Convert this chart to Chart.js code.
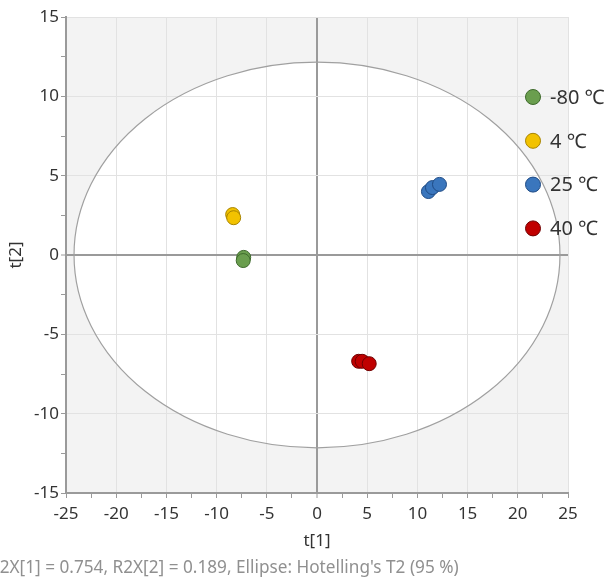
<!DOCTYPE html>
<html>
<head>
<meta charset="utf-8">
<script src="https://cdn.jsdelivr.net/npm/chart.js@4/dist/chart.umd.min.js"></script>
<style>
  html, body { margin: 0; padding: 0; background: #ffffff; }
  #wrap { width: 606px; height: 580px; position: relative; }
</style>
</head>
<body>
<div id="wrap"><canvas id="c" width="606" height="580"></canvas></div>
<script>
// Score values per group: t[1] and t[2]
const groupLabels = ['-80 ℃', '4 ℃', '25 ℃', '40 ℃'];
const t1Minus80 = [-7.3, -7.35];
const t2Minus80 = [-0.15, -0.35];
const t1Plus4 = [-8.4, -8.3];
const t2Plus4 = [2.55, 2.35];
const t1Plus25 = [11.1, 11.5, 12.2];
const t2Plus25 = [4.0, 4.25, 4.45];
const t1Plus40 = [4.15, 4.5, 5.2];
const t2Plus40 = [-6.7, -6.7, -6.85];

// Hotelling's T2 (95 %) ellipse semi-axes
const ellipseA = 24.2;
const ellipseB = 12.15;

const footerText = "R2X[1] = 0.754, R2X[2] = 0.189, Ellipse: Hotelling's T2 (95 %)";

const fills = ['#6a9e4e', '#f2c200', '#3a76bd', '#c00000'];
const edges = ['#3e6a2c', '#a88400', '#1f4b85', '#700000'];

function pairs(xs, ys) { return xs.map((x, i) => ({ x: x, y: ys[i] })); }
const groups = [
  pairs(t1Minus80, t2Minus80),
  pairs(t1Plus4, t2Plus4),
  pairs(t1Plus25, t2Plus25),
  pairs(t1Plus40, t2Plus40)
];

const FONT = '"Noto Sans", "DejaVu Sans", sans-serif';

function ellipseGeom(x, y) {
  const cx = x.getPixelForValue(0), cy = y.getPixelForValue(0);
  return {
    cx: cx, cy: cy,
    rx: Math.abs(x.getPixelForValue(ellipseA) - cx),
    ry: Math.abs(y.getPixelForValue(ellipseB) - cy)
  };
}

const plotDecor = {
  id: 'plotDecor',
  beforeDraw(chart) {
    const { ctx, chartArea: a, scales: { x, y } } = chart;
    const e = ellipseGeom(x, y);
    ctx.save();
    ctx.fillStyle = '#f3f3f3';
    ctx.fillRect(a.left, a.top, a.right - a.left, a.bottom - a.top);
    ctx.beginPath();
    ctx.ellipse(e.cx, e.cy, e.rx, e.ry, 0, 0, Math.PI * 2);
    ctx.fillStyle = '#ffffff';
    ctx.fill();
    ctx.restore();
  },
  beforeDatasetsDraw(chart) {
    const { ctx, scales: { x, y } } = chart;
    const e = ellipseGeom(x, y);
    ctx.save();
    ctx.beginPath();
    ctx.ellipse(e.cx, e.cy, e.rx, e.ry, 0, 0, Math.PI * 2);
    ctx.strokeStyle = '#a0a0a0';
    ctx.lineWidth = 1.2;
    ctx.stroke();
    ctx.restore();
  },
  afterDraw(chart) {
    const { ctx } = chart;
    ctx.save();
    // legend
    const lx = 533, ly0 = 97, step = 43.8;
    chart.data.datasets.forEach((ds, i) => {
      const yy = ly0 + i * step;
      ctx.beginPath();
      ctx.arc(lx, yy, 7.5, 0, Math.PI * 2);
      ctx.fillStyle = ds.backgroundColor;
      ctx.fill();
      ctx.lineWidth = 1;
      ctx.strokeStyle = ds.borderColor;
      ctx.stroke();
      ctx.fillStyle = '#333333';
      ctx.font = '20px ' + FONT;
      ctx.textAlign = 'left';
      ctx.textBaseline = 'middle';
      ctx.fillText(ds.label, 550, yy + 1);
    });
    // footer
    ctx.fillStyle = '#909090';
    ctx.font = '17.2px ' + FONT;
    ctx.textAlign = 'left';
    ctx.textBaseline = 'middle';
    ctx.fillText(footerText, -11, 568);
    ctx.restore();
  }
};

function gridColor(c) {
  const v = c.tick && c.tick.value;
  if (v === 0) return '#9a9a9a';
  return (Math.abs(v % 5) < 1e-9) ? '#e2e2e2' : 'rgba(0,0,0,0)';
}
function gridWidth(c) {
  return (c.tick && c.tick.value === 0) ? 2 : 1;
}
function majorOnly(v) {
  return (Math.abs(v % 5) < 1e-9) ? String(v) : '';
}

new Chart(document.getElementById('c'), {
  type: 'scatter',
  data: {
    datasets: groups.map((g, i) => ({
      label: groupLabels[i],
      data: g,
      backgroundColor: fills[i],
      borderColor: edges[i],
      borderWidth: 1,
      pointRadius: 7,
      pointHoverRadius: 7
    }))
  },
  options: {
    responsive: false,
    animation: false,
    devicePixelRatio: 1,
    layout: { padding: { left: 0, right: 38, top: 17, bottom: 29 } },
    plugins: { legend: { display: false }, tooltip: { enabled: false } },
    scales: {
      x: {
        type: 'linear',
        min: -25, max: 25,
        afterFit(s) { s.height = 58; },
        ticks: {
          stepSize: 2.5, autoSkip: false, maxRotation: 0,
          callback: majorOnly,
          color: '#333333', font: { family: FONT, size: 17 }, padding: 6
        },
        grid: { color: gridColor, lineWidth: gridWidth, drawTicks: true, tickLength: 5, tickColor: '#9a9a9a', tickWidth: 1 },
        border: { display: true, color: '#9a9a9a', width: 2 },
        title: { display: true, text: 't[1]', color: '#333333', font: { family: FONT, size: 17 }, padding: { top: 0, bottom: 0 } }
      },
      y: {
        type: 'linear',
        min: -15, max: 15,
        afterFit(s) { s.width = 66; },
        ticks: {
          stepSize: 2.5, autoSkip: false,
          callback: majorOnly,
          color: '#333333', font: { family: FONT, size: 17 }, padding: 2
        },
        grid: { color: gridColor, lineWidth: gridWidth, drawTicks: true, tickLength: 5, tickColor: '#9a9a9a', tickWidth: 1 },
        border: { display: true, color: '#9a9a9a', width: 2 },
        title: { display: true, text: 't[2]', color: '#333333', font: { family: FONT, size: 17 }, padding: { top: 6, bottom: 0 } }
      }
    }
  },
  plugins: [plotDecor]
});
</script>
</body>
</html>
